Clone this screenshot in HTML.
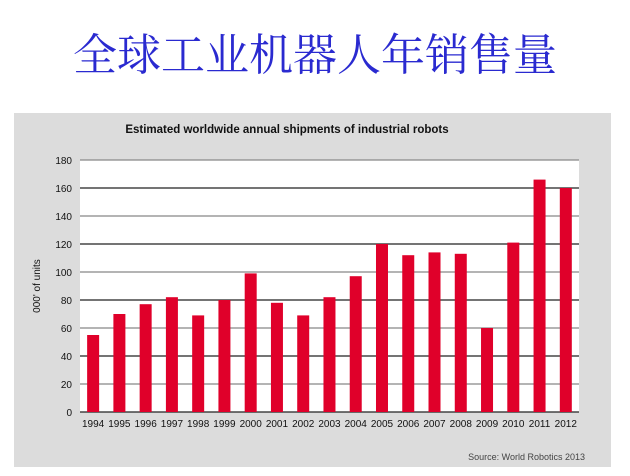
<!DOCTYPE html>
<html><head><meta charset="utf-8"><style>
body{margin:0;width:630px;height:476px;background:#fff;overflow:hidden;position:relative}
.t{position:absolute;left:0;width:630px;top:30px;text-align:center;font-family:"Liberation Serif","Noto Serif CJK SC",serif;font-size:44px;color:#2a2ad0;line-height:52px}
</style></head><body>
<div class="t">全球工业机器人年销售量</div>
<svg style="position:absolute;left:0;top:0" width="630" height="476" font-family="Liberation Sans, Arial, sans-serif">
<rect x="14" y="113" width="597" height="354" fill="#dcdcdc"/>
<rect x="80" y="160" width="499" height="252" fill="#fff"/>
<text x="287" y="133" font-size="11.5" font-weight="bold" text-anchor="middle" fill="#111">Estimated worldwide annual shipments of industrial robots</text>
<g stroke-width="1.2">
<line x1="80" x2="579" y1="160" y2="160" stroke="#888"/>
<line x1="80" x2="579" y1="188" y2="188" stroke="#222"/>
<line x1="80" x2="579" y1="216" y2="216" stroke="#888"/>
<line x1="80" x2="579" y1="244" y2="244" stroke="#222"/>
<line x1="80" x2="579" y1="272" y2="272" stroke="#888"/>
<line x1="80" x2="579" y1="300" y2="300" stroke="#222"/>
<line x1="80" x2="579" y1="328" y2="328" stroke="#888"/>
<line x1="80" x2="579" y1="356" y2="356" stroke="#222"/>
<line x1="80" x2="579" y1="384" y2="384" stroke="#888"/>
<line x1="80" x2="579" y1="412" y2="412" stroke="#222"/>
</g>
<g font-size="10" text-anchor="end" fill="#111">
<text x="72" y="164">180</text><text x="72" y="192">160</text><text x="72" y="220">140</text><text x="72" y="248">120</text><text x="72" y="276">100</text><text x="72" y="304">80</text><text x="72" y="332">60</text><text x="72" y="360">40</text><text x="72" y="388">20</text><text x="72" y="416">0</text>
</g>
<text transform="translate(40,286) rotate(-90)" font-size="10" text-anchor="middle" fill="#111">000' of units</text>
<g fill="#e0002a" id="bars"></g>
<g font-size="10" text-anchor="middle" fill="#111" id="lbl"></g>
<text x="585" y="460" font-size="9" text-anchor="end" fill="#444">Source: World Robotics 2013</text>
</svg>
<script>
var v=[55,70,77,82,69,80,99,78,69,82,97,120,112,114,113,60,121,166,160];
var b=document.getElementById('bars'),l=document.getElementById('lbl'),ns="http://www.w3.org/2000/svg";
v.forEach(function(d,i){var c=80+26.26*(i+0.5);var r=document.createElementNS(ns,'rect');
r.setAttribute('x',c-6);r.setAttribute('width',12);r.setAttribute('y',412-d*1.4);r.setAttribute('height',d*1.4);b.appendChild(r);
var t=document.createElementNS(ns,'text');t.setAttribute('x',c);t.setAttribute('y',427);t.textContent=1994+i;l.appendChild(t);});
</script>
</body></html>
